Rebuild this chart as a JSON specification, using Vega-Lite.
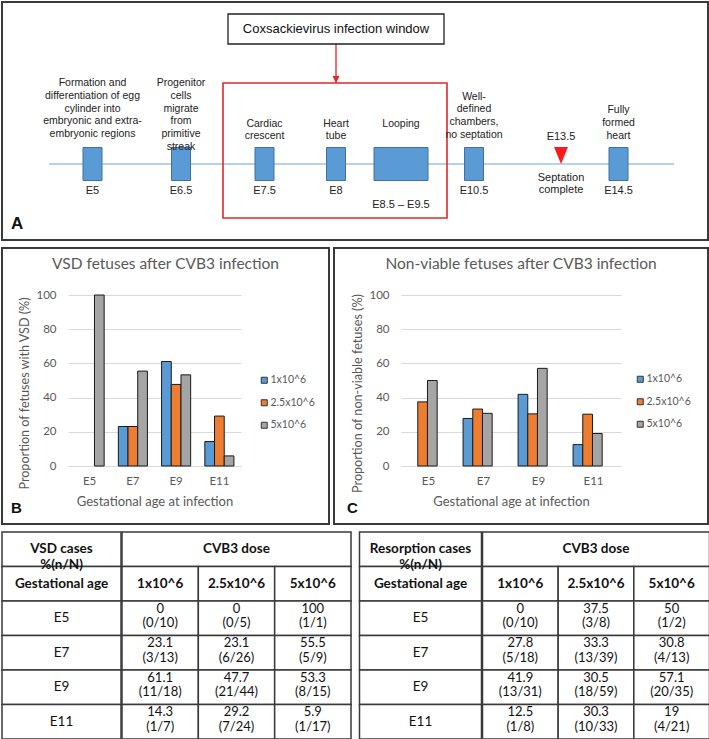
{
  "$schema": "https://vega.github.io/schema/vega-lite/v6.json",
  "background": "white",
  "padding": {"left": 1, "top": 1, "right": 0, "bottom": 0},
  "spacing": 6,
  "config": {
    "view": {"stroke": null},
    "font": "Lato",
    "axis": {"labelFont": "Lato", "labelFontSize": 11.5, "labelColor": "#595959", "titleFont": "Lato", "titleFontSize": 13, "titleFontWeight": "normal", "titleColor": "#595959", "ticks": false, "domain": false, "gridColor": "#d9d9d9", "gridWidth": 1},
    "legend": {"symbolType": "square", "symbolSize": 36, "symbolStrokeColor": "#333333", "symbolStrokeWidth": 1, "symbolOpacity": 1, "labelFont": "Lato", "labelFontSize": 10.5, "labelColor": "#595959", "rowPadding": 11.5, "labelOffset": 1, "padding": 0}
  },
  "resolve": {"scale": {"color": "independent"}, "legend": {"color": "independent"}},
  "datasets": {
    "vsd": [
      {"age": "E5", "dose": "1x10^6", "pct": 0, "frac": "(0/10)"},
      {"age": "E5", "dose": "2.5x10^6", "pct": 0, "frac": "(0/5)"},
      {"age": "E5", "dose": "5x10^6", "pct": 100, "frac": "(1/1)"},
      {"age": "E7", "dose": "1x10^6", "pct": 23.1, "frac": "(3/13)"},
      {"age": "E7", "dose": "2.5x10^6", "pct": 23.1, "frac": "(6/26)"},
      {"age": "E7", "dose": "5x10^6", "pct": 55.5, "frac": "(5/9)"},
      {"age": "E9", "dose": "1x10^6", "pct": 61.1, "frac": "(11/18)"},
      {"age": "E9", "dose": "2.5x10^6", "pct": 47.7, "frac": "(21/44)"},
      {"age": "E9", "dose": "5x10^6", "pct": 53.3, "frac": "(8/15)"},
      {"age": "E11", "dose": "1x10^6", "pct": 14.3, "frac": "(1/7)"},
      {"age": "E11", "dose": "2.5x10^6", "pct": 29.2, "frac": "(7/24)"},
      {"age": "E11", "dose": "5x10^6", "pct": 5.9, "frac": "(1/17)"}
    ],
    "resorption": [
      {"age": "E5", "dose": "1x10^6", "pct": 0, "frac": "(0/10)"},
      {"age": "E5", "dose": "2.5x10^6", "pct": 37.5, "frac": "(3/8)"},
      {"age": "E5", "dose": "5x10^6", "pct": 50, "frac": "(1/2)"},
      {"age": "E7", "dose": "1x10^6", "pct": 27.8, "frac": "(5/18)"},
      {"age": "E7", "dose": "2.5x10^6", "pct": 33.3, "frac": "(13/39)"},
      {"age": "E7", "dose": "5x10^6", "pct": 30.8, "frac": "(4/13)"},
      {"age": "E9", "dose": "1x10^6", "pct": 41.9, "frac": "(13/31)"},
      {"age": "E9", "dose": "2.5x10^6", "pct": 30.5, "frac": "(18/59)"},
      {"age": "E9", "dose": "5x10^6", "pct": 57.1, "frac": "(20/35)"},
      {"age": "E11", "dose": "1x10^6", "pct": 12.5, "frac": "(1/8)"},
      {"age": "E11", "dose": "2.5x10^6", "pct": 30.3, "frac": "(10/33)"},
      {"age": "E11", "dose": "5x10^6", "pct": 19, "frac": "(4/21)"}
    ],
    "vsdRows": [
      {"row": "header", "text": "VSD cases\n%(n/N)"},
      {"row": "subheader", "text": "Gestational age"},
      {"row": "E5", "text": "E5"},
      {"row": "E7", "text": "E7"},
      {"row": "E9", "text": "E9"},
      {"row": "E11", "text": "E11"}
    ],
    "resRows": [
      {"row": "header", "text": "Resorption cases\n%(n/N)"},
      {"row": "subheader", "text": "Gestational age"},
      {"row": "E5", "text": "E5"},
      {"row": "E7", "text": "E7"},
      {"row": "E9", "text": "E9"},
      {"row": "E11", "text": "E11"}
    ],
    "doses": [{"dose": "1x10^6"}, {"dose": "2.5x10^6"}, {"dose": "5x10^6"}],
    "doseHeader": [{"text": "CVB3 dose"}],
    "timeline": [{"start": 4.5, "end": 15.5}],
    "window": [{"start": 7, "end": 10, "center": 8, "title": "Coxsackievirus infection window"}],
    "stages": [
      {"day": 5, "label": "E5", "event": "Formation and\ndifferentiation of egg\ncylinder into\nembryonic and extra-\nembryonic regions", "tier": "upper"},
      {"day": 6.5, "label": "E6.5", "event": "Progenitor\ncells\nmigrate\nfrom\nprimitive\nstreak", "tier": "upper"},
      {"day": 7.5, "label": "E7.5", "event": "Cardiac\ncrescent", "tier": "lower"},
      {"day": 8, "label": "E8", "event": "Heart\ntube", "tier": "lower"},
      {"day": 10.5, "label": "E10.5", "event": "Well-\ndefined\nchambers,\nno septation", "tier": "upper-mid"},
      {"day": 14.5, "label": "E14.5", "event": "Fully\nformed\nheart", "tier": "mid"}
    ],
    "looping": [{"start": 8.5, "end": 9.5, "day": 9, "label": "E8.5 – E9.5", "event": "Looping", "tier": "lower"}],
    "septation": [{"day": 13.5, "label": "E13.5", "event": "Septation\ncomplete"}]
  },
  "vconcat": [
    {
      "width": 706,
      "height": 238,
      "view": {"stroke": "#3a3a3a", "strokeWidth": 2},
      "title": {"text": "A", "orient": "bottom", "anchor": "start", "frame": "group", "offset": -24, "dx": 9, "baseline": "top", "font": "Liberation Sans", "fontSize": 17, "fontWeight": "bold", "color": "#111111"},
      "layer": [
        {
          "data": {"name": "timeline"},
          "mark": {"type": "rule", "color": "#9dc3e6", "strokeWidth": 1.6},
          "encoding": {
            "x": {"field": "start", "type": "quantitative", "axis": null, "scale": {"type": "linear", "domain": [4.5, 5, 6.5, 7, 7.5, 8, 8.5, 9.5, 10, 10.5, 13.5, 14.5, 15.5], "range": [47, 90.5, 179, 221, 262.5, 334, 372, 426, 445, 472, 559, 616.5, 672], "nice": false, "zero": false}},
            "x2": {"field": "end"},
            "y": {"datum": "timeline", "type": "nominal", "axis": null, "scale": {"type": "point", "domain": ["title", "arrow", "r2", "r3", "upper", "upper-mid", "mid", "lower", "marker", "r9", "timeline", "below", "day", "range", "bottom"], "range": [27, 216], "padding": 0}}
          }
        },
        {
          "data": {"name": "window"},
          "mark": {"type": "rect", "fillOpacity": 0, "stroke": "#e3262b", "strokeWidth": 1.6},
          "encoding": {
            "x": {"field": "start", "type": "quantitative"},
            "x2": {"field": "end"},
            "y": {"datum": "upper", "type": "nominal"},
            "y2": {"datum": "bottom"}
          }
        },
        {
          "data": {"name": "stages"},
          "mark": {"type": "tick", "orient": "vertical", "thickness": 19, "size": 33, "fill": "#5b9bd5", "stroke": "#41719c", "strokeWidth": 1, "opacity": 1},
          "encoding": {
            "x": {"field": "day", "type": "quantitative"},
            "y": {"datum": "timeline", "type": "nominal"}
          }
        },
        {
          "data": {"name": "looping"},
          "mark": {"type": "bar", "orient": "horizontal", "height": 33, "fill": "#5b9bd5", "stroke": "#41719c", "strokeWidth": 1},
          "encoding": {
            "x": {"field": "start", "type": "quantitative"},
            "x2": {"field": "end"},
            "y": {"datum": "timeline", "type": "nominal"}
          }
        },
        {
          "data": {"name": "septation"},
          "mark": {"type": "point", "shape": "M-0.82,-2L0.82,-2L0,0Z", "size": 289, "filled": true, "fill": "#ff1a1a", "strokeWidth": 0, "opacity": 1},
          "encoding": {
            "x": {"field": "day", "type": "quantitative"},
            "y": {"datum": "timeline", "type": "nominal"}
          }
        },
        {
          "data": {"name": "window"},
          "mark": {"type": "rule", "color": "#e3262b", "strokeWidth": 1.3},
          "encoding": {
            "x": {"field": "center", "type": "quantitative"},
            "y": {"datum": "arrow", "type": "nominal"},
            "y2": {"datum": "upper"}
          }
        },
        {
          "data": {"name": "window"},
          "mark": {"type": "point", "shape": "M-1,-2L1,-2L0,0Z", "size": 49, "filled": true, "fill": "#e3262b", "strokeWidth": 0, "opacity": 1},
          "encoding": {
            "x": {"field": "center", "type": "quantitative"},
            "y": {"datum": "upper", "type": "nominal"}
          }
        },
        {
          "data": {"name": "window"},
          "mark": {"type": "tick", "orient": "vertical", "thickness": 216, "size": 30, "fill": "white", "stroke": "#222222", "strokeWidth": 1.3, "opacity": 1},
          "encoding": {
            "x": {"field": "center", "type": "quantitative"},
            "y": {"datum": "title", "type": "nominal"}
          }
        },
        {
          "data": {"name": "window"},
          "mark": {"type": "text", "font": "Liberation Sans", "fontSize": 13, "color": "#111111"},
          "encoding": {
            "x": {"field": "center", "type": "quantitative"},
            "y": {"datum": "title", "type": "nominal"},
            "text": {"field": "title"}
          }
        },
        {
          "data": {"name": "stages"},
          "mark": {"type": "text", "font": "Liberation Sans", "fontSize": 10.5, "lineBreak": "\n", "lineHeight": 12.75, "color": "#222222"},
          "encoding": {
            "x": {"field": "day", "type": "quantitative"},
            "y": {"field": "tier", "type": "nominal"},
            "text": {"field": "event"}
          }
        },
        {
          "data": {"name": "looping"},
          "mark": {"type": "text", "font": "Liberation Sans", "fontSize": 10.5, "color": "#222222"},
          "encoding": {
            "x": {"field": "day", "type": "quantitative"},
            "y": {"field": "tier", "type": "nominal"},
            "text": {"field": "event"}
          }
        },
        {
          "data": {"name": "stages"},
          "mark": {"type": "text", "font": "Liberation Sans", "fontSize": 11, "color": "#222222"},
          "encoding": {
            "x": {"field": "day", "type": "quantitative"},
            "y": {"datum": "day", "type": "nominal"},
            "text": {"field": "label"}
          }
        },
        {
          "data": {"name": "looping"},
          "mark": {"type": "text", "font": "Liberation Sans", "fontSize": 11, "color": "#222222"},
          "encoding": {
            "x": {"field": "day", "type": "quantitative"},
            "y": {"datum": "range", "type": "nominal"},
            "text": {"field": "label"}
          }
        },
        {
          "data": {"name": "septation"},
          "mark": {"type": "text", "font": "Liberation Sans", "fontSize": 11, "color": "#222222"},
          "encoding": {
            "x": {"field": "day", "type": "quantitative"},
            "y": {"datum": "marker", "type": "nominal"},
            "text": {"field": "label"}
          }
        },
        {
          "data": {"name": "septation"},
          "mark": {"type": "text", "font": "Liberation Sans", "fontSize": 11, "lineBreak": "\n", "lineHeight": 12.5, "color": "#222222"},
          "encoding": {
            "x": {"field": "day", "type": "quantitative"},
            "y": {"datum": "below", "type": "nominal"},
            "text": {"field": "event"}
          }
        }
      ]
    },
    {
      "hconcat": [
        {
          "title": {"text": "B", "orient": "bottom", "anchor": "start", "frame": "bounds", "offset": -24, "dx": 10, "baseline": "top", "font": "Liberation Sans", "fontSize": 15, "fontWeight": "bold", "color": "#111111"},
          "resolve": {"scale": {"color": "independent"}, "legend": {"color": "independent"}},
          "vconcat": [
            {
              "width": 327,
              "height": 276,
              "view": {"stroke": "#3a3a3a", "strokeWidth": 2},
              "title": {"text": "VSD fetuses after CVB3 infection", "orient": "top", "anchor": "middle", "frame": "group", "offset": -36, "baseline": "alphabetic", "font": "Lato", "fontSize": 15.5, "fontWeight": "normal", "color": "#595959"},
              "data": {"name": "vsd"},
              "mark": {"type": "bar", "stroke": "#1a1a1a", "strokeWidth": 1},
              "encoding": {
                "x": {"field": "age", "type": "nominal", "sort": ["E5", "E7", "E9", "E11"], "scale": {"type": "band", "range": [66, 239], "paddingInner": 0, "paddingOuter": 0}, "axis": {"orient": "bottom", "offset": -58, "title": "Gestational age at infection", "labelAngle": 0, "domain": true, "domainColor": "#d9d9d9", "labelPadding": 9, "titlePadding": 9}},
                "xOffset": {"field": "dose", "type": "nominal", "sort": ["1x10^6", "2.5x10^6", "5x10^6"], "scale": {"paddingInner": 0, "paddingOuter": 0.73}},
                "y": {"field": "pct", "type": "quantitative", "scale": {"domain": [0, 100], "range": [218, 47], "nice": false}, "axis": {"orient": "left", "offset": -66, "values": [0, 20, 40, 60, 80, 100], "grid": true, "title": "Proportion of fetuses with VSD (%)", "titleFontSize": 12.6, "labelPadding": 12, "titlePadding": 4, "titleY": 145}},
                "color": {"field": "dose", "type": "nominal", "sort": ["1x10^6", "2.5x10^6", "5x10^6"], "scale": {"range": ["#5b9bd5", "#ed7d31", "#a5a5a5"]}, "legend": {"orient": "none", "legendX": 257, "legendY": 127, "title": null}},
                "strokeOpacity": {"condition": {"test": "datum.pct === 0", "value": 0}, "value": 1}
              }
            }
          ]
        },
        {
          "title": {"text": "C", "orient": "bottom", "anchor": "start", "frame": "bounds", "offset": -24, "dx": 14, "baseline": "top", "font": "Liberation Sans", "fontSize": 15, "fontWeight": "bold", "color": "#111111"},
          "resolve": {"scale": {"color": "independent"}, "legend": {"color": "independent"}},
          "vconcat": [
            {
              "width": 374,
              "height": 276,
              "view": {"stroke": "#3a3a3a", "strokeWidth": 2},
              "title": {"text": "Non-viable fetuses after CVB3 infection", "orient": "top", "anchor": "middle", "frame": "group", "offset": -36, "baseline": "alphabetic", "font": "Lato", "fontSize": 15.5, "fontWeight": "normal", "color": "#595959"},
              "data": {"name": "resorption"},
              "mark": {"type": "bar", "stroke": "#1a1a1a", "strokeWidth": 1},
              "encoding": {
                "x": {"field": "age", "type": "nominal", "sort": ["E5", "E7", "E9", "E11"], "scale": {"type": "band", "range": [67, 287], "paddingInner": 0, "paddingOuter": 0}, "axis": {"orient": "bottom", "offset": -58, "title": "Gestational age at infection", "labelAngle": 0, "domain": true, "domainColor": "#d9d9d9", "labelPadding": 9, "titlePadding": 9}},
                "xOffset": {"field": "dose", "type": "nominal", "sort": ["1x10^6", "2.5x10^6", "5x10^6"], "scale": {"paddingInner": 0, "paddingOuter": 0.73}},
                "y": {"field": "pct", "type": "quantitative", "scale": {"domain": [0, 100], "range": [218, 47], "nice": false}, "axis": {"orient": "left", "offset": -67, "values": [0, 20, 40, 60, 80, 100], "grid": true, "title": "Proportion of non-viable fetuses (%)", "titleFontSize": 12.6, "labelPadding": 12, "titlePadding": 4, "titleY": 145}},
                "color": {"field": "dose", "type": "nominal", "sort": ["1x10^6", "2.5x10^6", "5x10^6"], "scale": {"range": ["#5b9bd5", "#ed7d31", "#a5a5a5"]}, "legend": {"orient": "none", "legendX": 301, "legendY": 126, "title": null}},
                "strokeOpacity": {"condition": {"test": "datum.pct === 0", "value": 0}, "value": 1}
              }
            }
          ]
        }
      ],
      "spacing": 3,
      "resolve": {"scale": {"color": "independent"}, "legend": {"color": "independent"}}
    },
    {
      "hconcat": [
        {
          "hconcat": [
            {
              "width": 119,
              "height": 207,
              "data": {"name": "vsdRows"},
              "layer": [
                {
                  "mark": {"type": "rect", "fill": "white", "stroke": "#3a3a3a", "strokeWidth": 1.5},
                  "encoding": {"y": {"field": "row", "type": "nominal", "axis": null, "scale": {"type": "band", "domain": ["header", "subheader", "E5", "E7", "E9", "E11"], "paddingInner": 0, "paddingOuter": 0}}}
                },
                {
                  "transform": [{"filter": "datum.row === 'header' || datum.row === 'subheader'"}],
                  "mark": {"type": "text", "font": "Lato", "fontSize": 13.5, "fontWeight": "bold", "lineBreak": "\n", "lineHeight": 16, "color": "#111111"},
                  "encoding": {"y": {"field": "row", "type": "nominal"}, "text": {"field": "text"}}
                },
                {
                  "transform": [{"filter": "datum.row !== 'header' && datum.row !== 'subheader'"}],
                  "mark": {"type": "text", "font": "Lato", "fontSize": 13.5, "color": "#111111"},
                  "encoding": {"y": {"field": "row", "type": "nominal"}, "text": {"field": "text"}}
                }
              ]
            },
            {
              "width": 229,
              "height": 207,
              "layer": [
                {
                  "data": {"name": "doseHeader"},
                  "mark": {"type": "rect", "fill": "white", "stroke": "#3a3a3a", "strokeWidth": 1.5},
                  "encoding": {"y": {"datum": "header", "type": "nominal", "axis": null, "scale": {"type": "band", "domain": ["header", "subheader", "E5", "E7", "E9", "E11"], "paddingInner": 0, "paddingOuter": 0}}}
                },
                {
                  "data": {"name": "doseHeader"},
                  "mark": {"type": "text", "font": "Lato", "fontSize": 13.5, "fontWeight": "bold", "color": "#111111"},
                  "encoding": {"y": {"datum": "header", "type": "nominal"}, "text": {"field": "text"}}
                },
                {
                  "data": {"name": "doses"},
                  "mark": {"type": "rect", "fill": "white", "stroke": "#3a3a3a", "strokeWidth": 1.5},
                  "encoding": {"x": {"field": "dose", "type": "nominal", "sort": ["1x10^6", "2.5x10^6", "5x10^6"], "axis": null, "scale": {"type": "band", "paddingInner": 0, "paddingOuter": 0}}, "y": {"datum": "subheader", "type": "nominal"}}
                },
                {
                  "data": {"name": "doses"},
                  "mark": {"type": "text", "font": "Lato", "fontSize": 13.5, "fontWeight": "bold", "color": "#111111"},
                  "encoding": {"x": {"field": "dose", "type": "nominal", "sort": ["1x10^6", "2.5x10^6", "5x10^6"]}, "y": {"datum": "subheader", "type": "nominal"}, "text": {"field": "dose"}}
                },
                {
                  "data": {"name": "vsd"},
                  "mark": {"type": "rect", "fill": "white", "stroke": "#3a3a3a", "strokeWidth": 1.5},
                  "encoding": {"x": {"field": "dose", "type": "nominal", "sort": ["1x10^6", "2.5x10^6", "5x10^6"]}, "y": {"field": "age", "type": "nominal"}}
                },
                {
                  "data": {"name": "vsd"},
                  "mark": {"type": "text", "font": "Lato", "fontSize": 13, "color": "#111111"},
                  "encoding": {"x": {"field": "dose", "type": "nominal", "sort": ["1x10^6", "2.5x10^6", "5x10^6"]}, "y": {"field": "age", "type": "nominal", "bandPosition": 0.22}, "text": {"field": "pct", "type": "nominal"}}
                },
                {
                  "data": {"name": "vsd"},
                  "mark": {"type": "text", "font": "Lato", "fontSize": 13, "color": "#111111"},
                  "encoding": {"x": {"field": "dose", "type": "nominal", "sort": ["1x10^6", "2.5x10^6", "5x10^6"]}, "y": {"field": "age", "type": "nominal", "bandPosition": 0.64}, "text": {"field": "frac"}}
                }
              ]
            }
          ],
          "spacing": -1.5
        },
        {
          "hconcat": [
            {
              "width": 122,
              "height": 207,
              "data": {"name": "resRows"},
              "layer": [
                {
                  "mark": {"type": "rect", "fill": "white", "stroke": "#3a3a3a", "strokeWidth": 1.5},
                  "encoding": {"y": {"field": "row", "type": "nominal", "axis": null, "scale": {"type": "band", "domain": ["header", "subheader", "E5", "E7", "E9", "E11"], "paddingInner": 0, "paddingOuter": 0}}}
                },
                {
                  "transform": [{"filter": "datum.row === 'header' || datum.row === 'subheader'"}],
                  "mark": {"type": "text", "font": "Lato", "fontSize": 13.5, "fontWeight": "bold", "lineBreak": "\n", "lineHeight": 16, "color": "#111111"},
                  "encoding": {"y": {"field": "row", "type": "nominal"}, "text": {"field": "text"}}
                },
                {
                  "transform": [{"filter": "datum.row !== 'header' && datum.row !== 'subheader'"}],
                  "mark": {"type": "text", "font": "Lato", "fontSize": 13.5, "color": "#111111"},
                  "encoding": {"y": {"field": "row", "type": "nominal"}, "text": {"field": "text"}}
                }
              ]
            },
            {
              "width": 227,
              "height": 207,
              "layer": [
                {
                  "data": {"name": "doseHeader"},
                  "mark": {"type": "rect", "fill": "white", "stroke": "#3a3a3a", "strokeWidth": 1.5},
                  "encoding": {"y": {"datum": "header", "type": "nominal", "axis": null, "scale": {"type": "band", "domain": ["header", "subheader", "E5", "E7", "E9", "E11"], "paddingInner": 0, "paddingOuter": 0}}}
                },
                {
                  "data": {"name": "doseHeader"},
                  "mark": {"type": "text", "font": "Lato", "fontSize": 13.5, "fontWeight": "bold", "color": "#111111"},
                  "encoding": {"y": {"datum": "header", "type": "nominal"}, "text": {"field": "text"}}
                },
                {
                  "data": {"name": "doses"},
                  "mark": {"type": "rect", "fill": "white", "stroke": "#3a3a3a", "strokeWidth": 1.5},
                  "encoding": {"x": {"field": "dose", "type": "nominal", "sort": ["1x10^6", "2.5x10^6", "5x10^6"], "axis": null, "scale": {"type": "band", "paddingInner": 0, "paddingOuter": 0}}, "y": {"datum": "subheader", "type": "nominal"}}
                },
                {
                  "data": {"name": "doses"},
                  "mark": {"type": "text", "font": "Lato", "fontSize": 13.5, "fontWeight": "bold", "color": "#111111"},
                  "encoding": {"x": {"field": "dose", "type": "nominal", "sort": ["1x10^6", "2.5x10^6", "5x10^6"]}, "y": {"datum": "subheader", "type": "nominal"}, "text": {"field": "dose"}}
                },
                {
                  "data": {"name": "resorption"},
                  "mark": {"type": "rect", "fill": "white", "stroke": "#3a3a3a", "strokeWidth": 1.5},
                  "encoding": {"x": {"field": "dose", "type": "nominal", "sort": ["1x10^6", "2.5x10^6", "5x10^6"]}, "y": {"field": "age", "type": "nominal"}}
                },
                {
                  "data": {"name": "resorption"},
                  "mark": {"type": "text", "font": "Lato", "fontSize": 13, "color": "#111111"},
                  "encoding": {"x": {"field": "dose", "type": "nominal", "sort": ["1x10^6", "2.5x10^6", "5x10^6"]}, "y": {"field": "age", "type": "nominal", "bandPosition": 0.22}, "text": {"field": "pct", "type": "nominal"}}
                },
                {
                  "data": {"name": "resorption"},
                  "mark": {"type": "text", "font": "Lato", "fontSize": 13, "color": "#111111"},
                  "encoding": {"x": {"field": "dose", "type": "nominal", "sort": ["1x10^6", "2.5x10^6", "5x10^6"]}, "y": {"field": "age", "type": "nominal", "bandPosition": 0.64}, "text": {"field": "frac"}}
                }
              ]
            }
          ],
          "spacing": -1.5
        }
      ],
      "spacing": 6.5
    }
  ]
}
